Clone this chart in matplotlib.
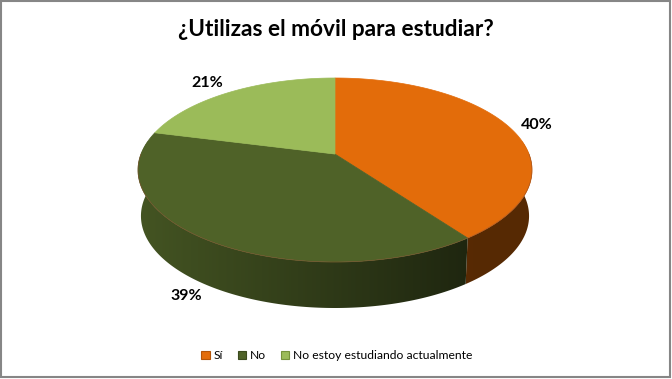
import numpy as np
import matplotlib.pyplot as plt
from matplotlib.colors import to_rgb
from matplotlib.patches import Polygon, Rectangle, Patch

plt.rcParams['font.family'] = ['Lato', 'DejaVu Sans']

# data
categories = ['Sí', 'No', 'No estoy estudiando actualmente']
values = [40, 39, 21]
pct_labels = ['40%', '39%', '21%']
colors = ['#E36C0A', '#4F6228', '#9BBB59']
edge_colors = ['#B35408', '#3B4A1E', '#76923C']

# 3d pie look
TILT = np.radians(30)
DIST = 5.0
DEPTH_PX = 46
box = (138, 532, 78, 262)  # pixel box of the top face


def project(t):
    X = np.cos(t)
    Z = np.sin(t)
    yv = Z * np.sin(TILT)
    dv = Z * np.cos(TILT)
    s = DIST / (DIST + dv)
    return X * s, yv * s


tt = np.linspace(0, 2 * np.pi, 721)
ex, ey = project(tt)
x0, x1, y0, y1 = ex.min(), ex.max(), ey.min(), ey.max()


def to_px(x, y):
    px = box[0] + (x - x0) / (x1 - x0) * (box[1] - box[0])
    py = box[2] + (y1 - y) / (y1 - y0) * (box[3] - box[2])
    return px, py


fig = plt.figure(figsize=(6.72, 3.79), dpi=100)
ax = fig.add_axes([0, 0, 1, 1])
ax.set_xlim(0, 672)
ax.set_ylim(379, 0)
ax.axis('off')

total = sum(values)
starts = []
a = np.pi / 2
for v in values:
    starts.append((a, a - v / total * 2 * np.pi))
    a -= v / total * 2 * np.pi

cpx, cpy = to_px(0.0, 0.0)
cx_mid = (box[0] + box[1]) / 2
half_w = (box[1] - box[0]) / 2

# side walls: front part of each slice, shaded left to right
xs = np.linspace(100, 570, 400)
for i, (ta, tb) in enumerate(starts):
    lo, hi = min(ta, tb), max(ta, tb)
    ts = np.linspace(lo, hi, 400)
    ts = ts[np.sin(ts) < 0.15]
    if len(ts) < 2:
        continue
    px, py = to_px(*project(ts))
    bx = cx_mid + (px - cx_mid) * 0.985
    by = py + DEPTH_PX
    pts = list(zip(px, py)) + list(zip(bx[::-1], by[::-1]))
    poly = Polygon(pts, closed=True, facecolor='none', edgecolor='none')
    ax.add_patch(poly)
    c = np.array(to_rgb(colors[i]))
    f = np.clip(0.58 - 0.28 * (xs - cx_mid) / half_w, 0.38, 1)
    img = np.clip(c[None, None, :] * f[None, :, None], 0, 1)
    im = ax.imshow(img, extent=(xs[0], xs[-1], 330, 100), aspect='auto',
                   interpolation='bilinear', zorder=1)
    im.set_clip_path(poly)

# top face
for i, (ta, tb) in enumerate(starts):
    ts = np.linspace(ta, tb, 300)
    px, py = to_px(*project(ts))
    pts = [(cpx, cpy)] + list(zip(px, py))
    ax.add_patch(Polygon(pts, closed=True, facecolor=colors[i],
                         edgecolor=colors[i], lw=0.5, zorder=2))

# thin rim line on the front
ts = np.linspace(np.pi * 1.0, np.pi * 2.0, 300)
px, py = to_px(*project(ts))
ax.plot(px, py, color='#8C4A2C', lw=0.5, alpha=0.6, zorder=3)

# percentage labels, pushed out from the rim
for i, (ta, tb) in enumerate(starts):
    tm = (ta + tb) / 2
    lx, ly = to_px(*project(tm))
    if np.sin(tm) < 0:
        ly += DEPTH_PX
        ux, uy = lx - cpx, ly - cpy - 40
    else:
        ux, uy = lx - cpx, ly - cpy
    n = np.hypot(ux, uy)
    ax.text(lx + 27 * ux / n, ly + 17 * uy / n, pct_labels[i], ha='center', va='center',
            fontsize=11.5, fontweight='bold', color='black', zorder=4)

ax.text(336, 30, '¿Utilizas el móvil para estudiar?', ha='center', va='center',
        fontsize=16.3, fontweight='bold', color='black')

handles = [Patch(facecolor=colors[i], edgecolor=edge_colors[i], lw=0.8, label=categories[i])
           for i in range(len(categories))]
fig.legend(handles=handles, loc='center', bbox_to_anchor=(0.501, 0.062), ncol=3,
           frameon=False, fontsize=8.7, handlelength=0.7, handleheight=0.7,
           handletextpad=0.3, columnspacing=1.23)

ax.add_patch(Rectangle((1, 1), 669, 376, fill=False, edgecolor='#868686', lw=1.5))

fig.savefig('out.png', dpi=100)
